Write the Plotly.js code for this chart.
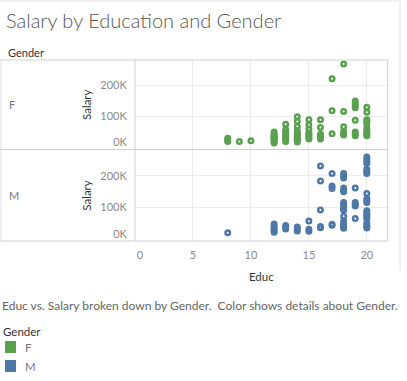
<!DOCTYPE html>
<html><head><meta charset="utf-8">
<script src="https://cdn.plot.ly/plotly-3.0.1.min.js"></script>
<style>html,body{margin:0;padding:0;background:#fff}#chart{width:407px;height:381px}</style>
</head><body><div id="chart"></div>
<script>
// Data (Salary in thousands)
const genders = ['F', 'M'];
const colors = ['#59a14f', '#4e79a7'];
const xTicks = [0, 5, 10, 15, 20];
const yTicks = [0, 100, 200];
const yTickText = ['0K', '100K', '200K'];

const femaleEduc = [8,8,8, 9, 10,
  12,12,12,12,12,12,12,12,12,12,
  13,13,13,13,13,13,13,13,13,
  14,14,14,14,14,14,14,14,14,14,14,14,
  15,15,15,15,15,15,15,15,
  16,16,16,16,16,16,
  17,17,17,
  18,18,18,18,18,18,
  19,19,19,19,19,19,19,19,
  20,20,20,20,20,20,20,20,20,20];
const femaleSalary = [20,25,30, 20, 22,
  15,20,25,28,30,33,36,40,45,50,
  75,58,50,45,40,35,30,25,20,
  99,84,68,55,48,42,38,34,30,26,22,18,
  90,73,60,47,42,38,33,28,
  90,65,43,38,33,28,
  222,119,45,
  269,116,67,51,45,41,
  150,143,135,128,88,50,44,38,
  130,114,90,85,77,63,55,48,42,38];

const maleEduc = [8,
  12,12,12,12,12,
  13,13,13,
  14,14,14,
  15,15,15,
  16,16,16,16,16,
  17,17,17,17,17,
  18,18,18,18,18,18,18,18,18,18,18,18,18,18,18,18,18,
  19,19,19,19,19,
  20,20,20,20,20,20,20,20,20,20,20,20,20,20,20,20,20,20,20,20];
const maleSalary = [20,
  48,40,33,27,22,
  43,37,32,
  38,32,26,
  57,31,25,
  231,184,92,40,36,
  208,168,160,47,44,
  208,200,193,162,155,150,116,110,104,97,91,72,57,50,44,38,34,
  162,116,110,105,65,
  260,253,246,240,221,214,208,144,128,122,116,90,83,77,70,65,51,45,40,35];

const W = 407, H = 381;
const px = x => x / W, py = y => 1 - y / H;
const L = 135, R = 387.7;

const traces = [
  {x: femaleEduc, y: femaleSalary, xaxis: 'x', yaxis: 'y', name: genders[0]},
  {x: maleEduc, y: maleSalary, xaxis: 'x2', yaxis: 'y2', name: genders[1]}
].map((t, i) => Object.assign(t, {
  type: 'scatter', mode: 'markers', showlegend: false, hoverinfo: 'x+y',
  marker: {symbol: 'circle-open', size: 4.5, color: colors[i], line: {width: 2.5, color: colors[i]}}
}));
// empty helper traces so the overlay axes (edge labels) are drawn
traces.push({type: 'scatter', mode: 'markers', x: [], y: [], xaxis: 'x', yaxis: 'y3', showlegend: false, hoverinfo: 'skip'});
traces.push({type: 'scatter', mode: 'markers', x: [], y: [], xaxis: 'x2', yaxis: 'y4', showlegend: false, hoverinfo: 'skip'});
traces.push({type: 'scatter', mode: 'markers', x: [], y: [], xaxis: 'x3', yaxis: 'y2', showlegend: false, hoverinfo: 'skip'});

const gridC = '#ececec', lineC = '#cfcfcf';
const tickFont = {family: 'Lato', size: 11, color: '#8a8a8a'};
const baseX = {range: [0, 21.8], tickvals: xTicks.slice(1), showgrid: true, gridcolor: gridC, zeroline: false,
  showline: false, ticks: 'outside', ticklen: 4, tickcolor: 'rgba(0,0,0,0)',
  tickfont: tickFont, domain: [px(L), px(R)], fixedrange: true};
const baseY = {range: [-6, 282], tickvals: yTicks.slice(1), ticktext: yTickText.slice(1), showgrid: true, gridcolor: gridC,
  zeroline: false, showline: false, ticks: 'outside', ticklen: 5, tickcolor: 'rgba(0,0,0,0)',
  tickfont: tickFont,
  title: {text: 'Salary', font: {family: 'Lato', size: 11.5, color: '#333'}, standoff: 6}, fixedrange: true};
const edgeY = {range: [-6, 282], tickvals: [yTicks[0]], ticktext: [yTickText[0]], showgrid: false, zeroline: false,
  showline: false, ticks: 'outside', ticklen: 5, tickcolor: 'rgba(0,0,0,0)', tickfont: tickFont,
  ticklabelshift: -5, side: 'left', fixedrange: true};

function hline(y, x0, x1, c) { return {type: 'line', xref: 'paper', yref: 'paper', x0: px(x0), x1: px(x1), y0: py(y), y1: py(y), line: {color: c || lineC, width: 1}}; }
function vline(x, y0, y1, c) { return {type: 'line', xref: 'paper', yref: 'paper', x0: px(x), x1: px(x), y0: py(y0), y1: py(y1), line: {color: c || lineC, width: 1}}; }

const shapes = [
  hline(1, 0, 400, '#e4e4e4'), vline(400, 1, 270, '#e4e4e4'),
  hline(60, 0, 388), hline(149.5, 0, 388), hline(241, 0, 388),
  vline(L, 60, 241), vline(R, 60, 241), vline(1, 60, 241, '#e0e0e0'),
  {type: 'rect', xref: 'paper', yref: 'paper', x0: px(5), x1: px(16), y0: py(353), y1: py(341), fillcolor: colors[0], line: {width: 0}},
  {type: 'rect', xref: 'paper', yref: 'paper', x0: px(5), x1: px(16), y0: py(372), y1: py(360), fillcolor: colors[1], line: {width: 0}}
];

function ann(text, x, y, size, color, extra) {
  return Object.assign({text, xref: 'paper', yref: 'paper', x: px(x), y: py(y), xanchor: 'left', yanchor: 'middle',
    showarrow: false, font: {family: 'Lato', size, color}}, extra || {});
}

const annotations = [
  ann('Gender', 6, 52, 11, '#333'),
  ann(genders[0], 7, 104, 11, '#777'),
  ann(genders[1], 7, 195, 11, '#777'),
  ann('Educ vs. Salary broken down by Gender.  Color shows details about Gender.', 0, 305, 12, '#666'),
  ann('Gender', 1, 331, 11.5, '#333'),
  ann(genders[0], 23, 347, 11.5, '#777'),
  ann(genders[1], 23, 366, 11.5, '#777')
];

const layout = {
  width: W, height: H, margin: {l: 0, r: 0, t: 0, b: 0}, paper_bgcolor: '#fff', plot_bgcolor: 'rgba(0,0,0,0)',
  title: {text: 'Salary by Education and Gender', x: px(6), xanchor: 'left', y: py(21), yanchor: 'middle',
    font: {family: 'Lato', size: 20, color: '#555', weight: 300}},
  xaxis: Object.assign({}, baseX, {anchor: 'y', showticklabels: false}),
  xaxis2: Object.assign({}, baseX, {anchor: 'y2', showticklabels: true,
    title: {text: 'Educ', font: {family: 'Lato', size: 11.5, color: '#333'}, standoff: 12}}),
  xaxis3: Object.assign({}, baseX, {anchor: 'y2', overlaying: 'x2', showgrid: false, tickvals: [xTicks[0]], ticklabelshift: 5}),
  yaxis: Object.assign({}, baseY, {anchor: 'x', domain: [py(149.5), py(60)]}),
  yaxis2: Object.assign({}, baseY, {anchor: 'x2', domain: [py(241), py(150)]}),
  yaxis3: Object.assign({}, edgeY, {anchor: 'x', overlaying: 'y'}),
  yaxis4: Object.assign({}, edgeY, {anchor: 'x2', overlaying: 'y2'}),
  shapes, annotations, showlegend: false
};

Plotly.newPlot('chart', traces, layout, {displayModeBar: false, staticPlot: true});
</script></body></html>
